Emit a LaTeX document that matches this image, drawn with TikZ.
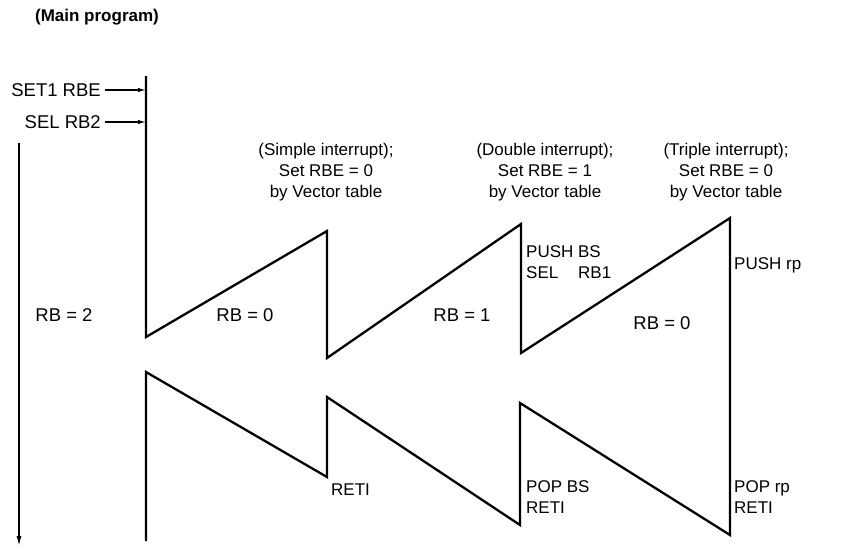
\documentclass[tikz,border=0pt]{standalone}
\usepackage{fontspec}
\setmainfont{Liberation Sans}
\usetikzlibrary{arrows.meta}
\begin{document}
\begin{tikzpicture}[x=1pt,y=-1pt,
  lbl/.style={font=\fontsize{17}{21}\selectfont, inner sep=0pt},
  wide/.style={font=\fontsize{18.5}{21}\selectfont, inner sep=0pt},
  note/.style={lbl, align=center},
  stack/.style={lbl, align=left, anchor=north west},
  wave/.style={line width=2.3pt, line join=miter},
  feed/.style={line width=1.3pt, -{Latex[length=8pt,width=4.5pt]}},
  timeline/.style={line width=1.5pt, -{Latex[length=10pt,width=5pt]}}]
\useasboundingbox (0,0) rectangle (844,550);

% register-bank trace: interrupt entries (top) and returns (bottom)
\coordinate (m0) at (146,76);
\coordinate (m1) at (146,337);
\coordinate (p1) at (327,231);
\coordinate (q1) at (327,358);
\coordinate (p2) at (521,224);
\coordinate (q2) at (521,353);
\coordinate (p3) at (730,218);
\coordinate (q3) at (730,535);
\coordinate (t2) at (520,403);
\coordinate (s2) at (520,525);
\coordinate (t1) at (327,397);
\coordinate (s1) at (327,477);
\coordinate (r0) at (146,372);
\coordinate (r1) at (146,541);
\draw[wave] (m0) -- (m1) -- (p1) -- (q1) -- (p2) -- (q2) -- (p3) -- (q3)
  -- (t2) -- (s2) -- (t1) -- (s1) -- (r0) -- (r1);

% main program
\node[lbl, font=\fontsize{17}{21}\selectfont\bfseries] (title) at (97,17) {(Main program)};
\node[wide, anchor=east] (set1) at (101,90) {SET1 RBE};
\node[wide, anchor=east] (selrb2) at (101,122) {SEL RB2};
\coordinate (e1) at (146,90);
\coordinate (e2) at (146,122);
\draw[feed] ([xshift=4pt]set1.east) -- (e1);
\draw[feed] ([xshift=4pt]selrb2.east) -- (e2);

% time axis
\coordinate (tl0) at (19,143);
\coordinate (tl1) at (19,546);
\draw[timeline] (tl0) -- (tl1);

% active register bank in each phase
\node[wide] (rb2) at (64,315) {RB = 2};
\node[wide] (rb0a) at (245,315) {RB = 0};
\node[wide] (rb1) at (462,315) {RB = 1};
\node[wide] (rb0b) at (662,323) {RB = 0};

% interrupt levels
\node[note] (simple) at (326,172) {(Simple interrupt);\\Set RBE = 0\\by Vector table};
\node[note] (double) at (545,172) {(Double interrupt);\\Set RBE = 1\\by Vector table};
\node[note] (triple) at (726,172) {(Triple interrupt);\\Set RBE = 0\\by Vector table};

% handler instructions
\node[stack] (pushbs) at (526,243) {\begin{tabular}{@{}l@{ }l@{}}PUSH & BS\\ SEL & RB1\end{tabular}};
\node[lbl, anchor=west] (pushrp) at (734,265) {PUSH rp};
\node[lbl, anchor=west] (reti1) at (331,490) {RETI};
\node[stack] (popbs) at (526,480) {POP BS\\RETI};
\node[stack] (poprp) at (734,480) {POP rp\\RETI};
\end{tikzpicture}
\end{document}
